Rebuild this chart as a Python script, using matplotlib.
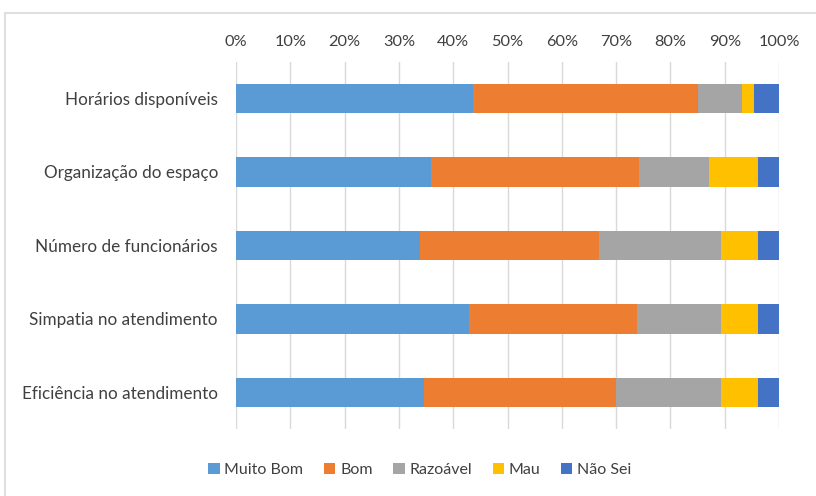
import matplotlib
matplotlib.use("Agg")
import matplotlib.pyplot as plt
from matplotlib.patches import Rectangle
import numpy as np

categories = ["Horários disponíveis", "Organização do espaço", "Número de funcionários",
              "Simpatia no atendimento", "Eficiência no atendimento"]
series_names = ["Muito Bom", "Bom", "Razoável", "Mau", "Não Sei"]
muito_bom = [43.7, 36.0, 33.9, 42.9, 34.6]
bom = [41.3, 38.3, 33.0, 30.9, 35.3]
razoavel = [8.2, 12.9, 22.4, 15.5, 19.4]
mau = [2.2, 9.0, 6.9, 6.9, 6.9]
nao_sei = [4.6, 3.8, 3.8, 3.8, 3.8]
colors = ["#5B9BD5", "#ED7D31", "#A5A5A5", "#FFC000", "#4472C4"]
xticks = list(range(0, 101, 10))

plt.rcParams['font.family'] = ['Lato', 'DejaVu Sans']

fig = plt.figure(figsize=(8.16, 4.96), dpi=100)
fig.patches.append(Rectangle((5/816, -0.1), 1.2, 1 - 13/496 + 0.1, transform=fig.transFigure,
                             fill=False, edgecolor="#D9D9D9", linewidth=1.2, zorder=0))
ax = fig.add_axes([236/816, 1 - 429.3/496, (779 - 236)/816, (429.3 - 61.5)/496])

y = np.arange(len(categories))
left = np.zeros(len(categories))
for name, vals, c in zip(series_names, [muito_bom, bom, razoavel, mau, nao_sei], colors):
    vals = np.array(vals)
    ax.barh(y, vals, left=left, height=0.4, color=c, label=name, zorder=3)
    left += vals

ax.set_xlim(0, 100)
ax.set_ylim(len(categories) - 0.5, -0.5)
ax.set_yticks(y)
ax.set_yticklabels(categories, fontsize=12.3)
ax.set_xticks(xticks)
ax.set_xticklabels([f"{v}%" for v in xticks], fontsize=11.8)
ax.xaxis.tick_top()
ax.tick_params(axis='both', length=0, labelcolor="#404040")
ax.tick_params(axis='x', pad=9)
ax.tick_params(axis='y', pad=13)
ax.grid(axis='x', color="#D9D9D9", linewidth=1.0, zorder=0)
for s in ax.spines.values():
    s.set_visible(False)

leg = fig.legend(loc='center', bbox_to_anchor=(420/816, 1 - 470/496), ncol=5, frameon=False,
                 fontsize=11.5, handlelength=0.7, handleheight=0.7, handletextpad=0.3,
                 columnspacing=1.3)
for t in leg.get_texts():
    t.set_color("#404040")

fig.savefig("out.png", dpi=100)
